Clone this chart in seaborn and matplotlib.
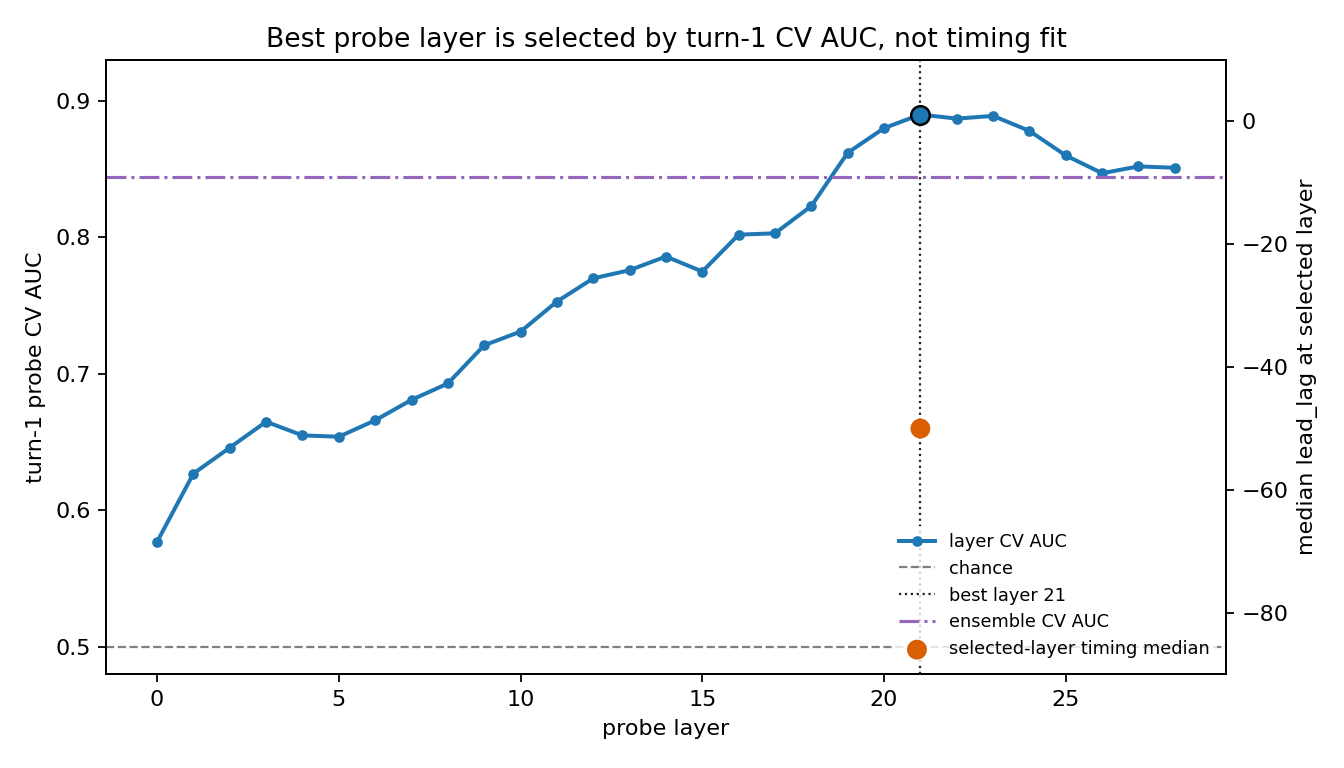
import matplotlib
matplotlib.use("Agg")
import matplotlib.pyplot as plt
import seaborn as sns
import pandas as pd

layers = list(range(29))
cv_auc = [0.577, 0.627, 0.646, 0.665, 0.655, 0.654, 0.666, 0.681, 0.693,
          0.721, 0.731, 0.753, 0.770, 0.776, 0.786, 0.775, 0.802, 0.803,
          0.823, 0.862, 0.880, 0.890, 0.887, 0.889, 0.878, 0.860, 0.847,
          0.852, 0.851]
chance = 0.5
best_layer = 21
ensemble_auc = 0.844
timing_median = -50

df = pd.DataFrame({'layer': layers, 'auc': cv_auc})

fig, ax = plt.subplots(figsize=(8.4, 4.8), dpi=160)
fig.subplots_adjust(left=0.079, right=0.912, top=0.922, bottom=0.122)

sns.lineplot(data=df, x='layer', y='auc', ax=ax, color='#1f77b4', lw=1.8,
             marker='o', markersize=4.8, markeredgewidth=0, label='layer CV AUC')
ax.axhline(chance, color='gray', ls='--', lw=1, label='chance')
ax.axvline(best_layer, color='#222222', ls=':', lw=1, label=f'best layer {best_layer}')
ax.axhline(ensemble_auc, color='#9467bd', ls='-.', lw=1.4, label='ensemble CV AUC')
ax.scatter([best_layer], [cv_auc[best_layer]], s=70, color='#1f77b4',
           edgecolor='black', linewidth=1.1, zorder=5)
ax.set_ylim(0.48, 0.93)
ax.set_xlabel('probe layer')
ax.set_ylabel('turn-1 probe CV AUC')
ax.set_title('Best probe layer is selected by turn-1 CV AUC, not timing fit', fontsize=12)

ax2 = ax.twinx()
sns.scatterplot(x=[best_layer], y=[timing_median], ax=ax2, s=80, color='#d95f02',
                edgecolor='none', label='selected-layer timing median')
ax2.set_ylim(-90, 10)
ax2.set_ylabel('median lead_lag at selected layer')

h1, l1 = ax.get_legend_handles_labels()
h2, l2 = ax2.get_legend_handles_labels()
if ax.get_legend():
    ax.get_legend().remove()
ax2.legend(h1 + h2, l1 + l2, loc='lower right', fontsize=8,
           frameon=True, edgecolor='none', framealpha=0.8)

fig.savefig('out.png', dpi=160)
